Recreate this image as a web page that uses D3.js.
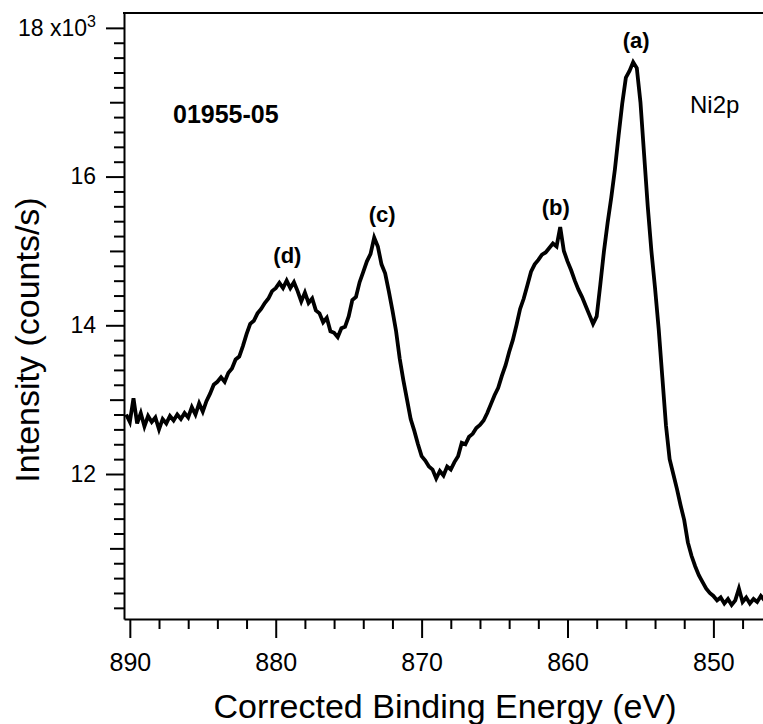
<!DOCTYPE html>
<html>
<head>
<meta charset="utf-8">
<script src="https://cdn.jsdelivr.net/npm/d3@7"></script>
<style>
  body { margin: 0; background: #fff; }
  svg { display: block; font-family: "Liberation Sans", Arial, sans-serif; }
</style>
</head>
<body>
<svg id="chart" width="763" height="724"></svg>
<script>
// binding energy (eV), every 0.25 eV
const energy = [
  890.25, 890.0, 889.75, 889.5, 889.25, 889.0, 888.75, 888.5,
  888.25, 888.0, 887.75, 887.5, 887.25, 887.0, 886.75, 886.5,
  886.25, 886.0, 885.75, 885.5, 885.25, 885.0, 884.75, 884.5,
  884.25, 884.0, 883.75, 883.5, 883.25, 883.0, 882.75, 882.5,
  882.25, 882.0, 881.75, 881.5, 881.25, 881.0, 880.75, 880.5,
  880.25, 880.0, 879.75, 879.5, 879.25, 879.0, 878.75, 878.5,
  878.25, 878.0, 877.75, 877.5, 877.25, 877.0, 876.75, 876.5,
  876.25, 876.0, 875.75, 875.5, 875.25, 875.0, 874.75, 874.5,
  874.25, 874.0, 873.75, 873.5, 873.25, 873.0, 872.75, 872.5,
  872.25, 872.0, 871.75, 871.5, 871.25, 871.0, 870.75, 870.5,
  870.25, 870.0, 869.75, 869.5, 869.25, 869.0, 868.75, 868.5,
  868.25, 868.0, 867.75, 867.5, 867.25, 867.0, 866.75, 866.5,
  866.25, 866.0, 865.75, 865.5, 865.25, 865.0, 864.75, 864.5,
  864.25, 864.0, 863.75, 863.5, 863.25, 863.0, 862.75, 862.5,
  862.25, 862.0, 861.75, 861.5, 861.25, 861.0, 860.75, 860.5,
  860.25, 860.0, 859.75, 859.5, 859.25, 859.0, 858.75, 858.5,
  858.25, 858.0, 857.75, 857.5, 857.25, 857.0, 856.75, 856.5,
  856.25, 856.0, 855.75, 855.5, 855.25, 855.0, 854.75, 854.5,
  854.25, 854.0, 853.75, 853.5, 853.25, 853.0, 852.75, 852.5,
  852.25, 852.0, 851.75, 851.5, 851.25, 851.0, 850.75, 850.5,
  850.25, 850.0, 849.75, 849.5, 849.25, 849.0, 848.75, 848.5,
  848.25, 848.0, 847.75, 847.5, 847.25, 847.0, 846.75, 846.5,
];

// intensity in thousands of counts/s
const intensity = [
  12.80, 12.70, 13.02, 12.68, 12.82, 12.64, 12.78, 12.70,
  12.76, 12.60, 12.74, 12.68, 12.78, 12.72, 12.80, 12.74,
  12.82, 12.76, 12.90, 12.80, 12.95, 12.84, 12.98, 13.08,
  13.20, 13.24, 13.30, 13.24, 13.36, 13.42, 13.54, 13.58,
  13.72, 13.88, 14.02, 14.06, 14.16, 14.22, 14.30, 14.36,
  14.46, 14.50, 14.57, 14.50, 14.60, 14.50, 14.58, 14.46,
  14.32, 14.44, 14.30, 14.36, 14.20, 14.16, 14.04, 14.10,
  13.92, 13.90, 13.84, 13.96, 13.98, 14.12, 14.34, 14.38,
  14.58, 14.72, 14.86, 14.96, 15.18, 15.06, 14.82, 14.70,
  14.46, 14.20, 13.92, 13.55, 13.26, 13.00, 12.74, 12.58,
  12.40, 12.24, 12.18, 12.10, 12.06, 11.94, 12.04, 11.98,
  12.10, 12.06, 12.16, 12.24, 12.42, 12.40, 12.50, 12.54,
  12.62, 12.66, 12.72, 12.82, 12.94, 13.06, 13.16, 13.32,
  13.46, 13.64, 13.80, 14.00, 14.22, 14.36, 14.54, 14.72,
  14.82, 14.88, 14.95, 14.98, 15.04, 15.10, 15.06, 15.32,
  15.00, 14.86, 14.74, 14.60, 14.48, 14.38, 14.26, 14.14,
  14.02, 14.12, 14.55, 15.00, 15.38, 15.72, 16.10, 16.55,
  16.98, 17.33, 17.42, 17.54, 17.46, 17.00, 16.30, 15.60,
  15.00, 14.50, 13.95, 13.30, 12.65, 12.20, 12.00, 11.80,
  11.58, 11.38, 11.08, 10.90, 10.76, 10.64, 10.55, 10.46,
  10.40, 10.36, 10.30, 10.34, 10.26, 10.32, 10.24, 10.30,
  10.46, 10.28, 10.34, 10.26, 10.32, 10.28, 10.36, 10.30,
];

// tick values
const xMajorTicks = [890, 880, 870, 860, 850];
const xMinorTicks = [888, 886, 884, 882, 878, 876, 874, 872, 868, 866, 864, 862, 858, 856, 854, 852, 848];
const yMajorTicks = [12, 14, 16, 18];
const yMidTicks = [11, 13, 15, 17];
const yMinorTicks = [10.2, 10.4, 10.6, 10.8, 11.2, 11.4, 11.6, 11.8, 12.2, 12.4, 12.6, 12.8,
  13.2, 13.4, 13.6, 13.8, 14.2, 14.4, 14.6, 14.8, 15.2, 15.4, 15.6, 15.8,
  16.2, 16.4, 16.6, 16.8, 17.2, 17.4, 17.6, 17.8];

// peak annotations
const peakNames = ["(a)", "(b)", "(c)", "(d)"];
const peakLabelEnergy = [855.3, 860.8, 872.7, 879.2];
const peakLabelValue = [17.73, 15.48, 15.39, 14.84];

const sampleName = "01955-05";
const regionName = "Ni2p";

const svg = d3.select("#chart");

const x = d3.scaleLinear().domain([890.4, 846.6]).range([124, 763]);
const y = d3.scaleLinear().domain([10.05, 18.2]).range([619, 13]);

svg.append("defs").append("clipPath").attr("id", "plot-clip")
  .append("rect").attr("x", 124).attr("y", 13).attr("width", 639).attr("height", 606);

// spectrum line
const points = energy.map((e, i) => [e, intensity[i]]);
const line = d3.line().x((d) => x(d[0])).y((d) => y(d[1]));

svg.append("path")
  .datum(points)
  .attr("clip-path", "url(#plot-clip)")
  .attr("fill", "none")
  .attr("stroke", "#000")
  .attr("stroke-width", 3.8)
  .attr("stroke-linejoin", "miter")
  .attr("d", line);

// minor ticks first so the main axes sit on top
svg.append("g")
  .attr("transform", "translate(0,619)")
  .call(d3.axisBottom(x).tickValues(xMinorTicks).tickSize(10).tickFormat(""))
  .call((g) => g.select(".domain").remove());

svg.append("g")
  .attr("transform", "translate(124,0)")
  .call(d3.axisLeft(y).tickValues(yMinorTicks).tickSize(10).tickFormat(""))
  .call((g) => g.select(".domain").remove());

svg.append("g")
  .attr("transform", "translate(124,0)")
  .call(d3.axisLeft(y).tickValues(yMidTicks).tickSize(14).tickFormat(""))
  .call((g) => g.select(".domain").remove());

// x axis
const xAxis = svg.append("g")
  .attr("transform", "translate(0,619)")
  .call(d3.axisBottom(x).tickValues(xMajorTicks).tickSize(19).tickSizeOuter(0).tickPadding(15).tickFormat(d3.format("d")));

// y axis
const yAxis = svg.append("g")
  .attr("transform", "translate(124,0)")
  .call(d3.axisLeft(y).tickValues(yMajorTicks).tickSize(18).tickSizeOuter(0).tickPadding(10)
    .tickFormat((d) => (d === 18 ? "18 x10" : d)));

yAxis.selectAll(".tick text")
  .filter((d) => d === 18)
  .append("tspan")
  .attr("dy", "-0.55em")
  .attr("font-size", 16)
  .text("3");

svg.selectAll(".tick line, .domain")
  .attr("stroke", "#000")
  .attr("stroke-width", 2);

xAxis.selectAll(".tick text")
  .attr("font-size", 25)
  .attr("fill", "#000")
  .attr("font-family", "Liberation Sans, Arial, sans-serif");

yAxis.selectAll(".tick text")
  .attr("font-size", 23)
  .attr("fill", "#000")
  .attr("font-family", "Liberation Sans, Arial, sans-serif");

// top frame line
svg.append("line")
  .attr("x1", 123).attr("x2", 763)
  .attr("y1", 13).attr("y2", 13)
  .attr("stroke", "#000")
  .attr("stroke-width", 2);

// axis titles
svg.append("text")
  .attr("x", 445)
  .attr("y", 718)
  .attr("text-anchor", "middle")
  .attr("font-size", 34)
  .text("Corrected Binding Energy (eV)");

svg.append("text")
  .attr("transform", "translate(39,340) rotate(-90)")
  .attr("text-anchor", "middle")
  .attr("font-size", 34)
  .text("Intensity (counts/s)");

// annotations
svg.append("text")
  .attr("x", 173)
  .attr("y", 123)
  .attr("font-size", 25)
  .attr("font-weight", "bold")
  .text(sampleName);

svg.append("text")
  .attr("x", 690)
  .attr("y", 113)
  .attr("font-size", 24)
  .text(regionName);

svg.selectAll(".peak-label")
  .data(peakNames)
  .join("text")
  .attr("class", "peak-label")
  .attr("x", (d, i) => x(peakLabelEnergy[i]))
  .attr("y", (d, i) => y(peakLabelValue[i]))
  .attr("text-anchor", "middle")
  .attr("font-size", 22)
  .attr("font-weight", "bold")
  .text((d) => d);
</script>
</body>
</html>
